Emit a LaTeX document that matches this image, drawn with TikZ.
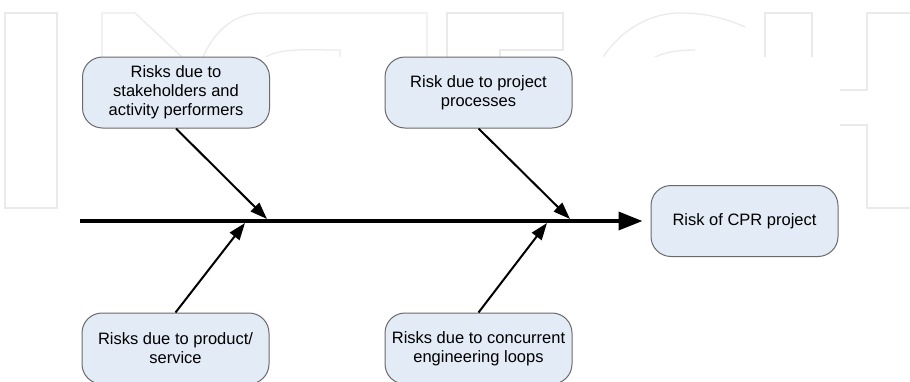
\documentclass[tikz,border=0pt]{standalone}
\usepackage{fontspec}
\setmainfont{Liberation Sans}
\usetikzlibrary{arrows.meta}
\definecolor{boxfill}{HTML}{E3EBF6}
\definecolor{boxline}{HTML}{6A6A6A}
\definecolor{wmline}{HTML}{EAEAEA}
\begin{document}
\begin{tikzpicture}[x=1pt,y=-1pt,
  cause/.style={draw=boxline, fill=boxfill, line width=1pt, rounded corners=20pt,
    minimum width=187pt, minimum height=71pt, align=center, inner sep=2pt,
    font=\fontsize{16.5}{19}\selectfont},
  bone/.style={line width=2pt, -{Triangle[length=17pt,width=12pt]}},
  spine/.style={line width=3.5pt, -{Triangle[length=24pt,width=18pt]}},
  wm/.style={draw=wmline, line width=1.3pt}]
\useasboundingbox (0,0) rectangle (910,381);

% faint outlined lettering in the background
\draw[wm] (5,13) rectangle (57,208);
\draw[wm] (102,57) -- (102,13) -- (135,13) -- (182,57);
\draw[wm] (203,57) .. controls (215,30) and (235,13) .. (262,13) -- (427,13) -- (427,57);
\draw[wm] (266,57) .. controls (276,50) and (300,49) .. (327,50) -- (340,50) -- (340,57);
\draw[wm] (447,57) -- (447,13) -- (563,13) -- (563,50) -- (500,50) -- (500,57);
\draw[wm] (603,57) .. controls (625,25) and (655,13) .. (680,13) .. controls (705,13) and (725,18) .. (745,27);
\draw[wm] (655,57) .. controls (668,51) and (682,50) .. (695,50);
\draw[wm] (765,57) -- (765,13) -- (812,13) -- (812,57);
\draw[wm] (840,90) -- (867,90) -- (867,13) -- (915,13);
\draw[wm] (840,125) -- (867,125) -- (867,208) -- (915,208);
\fill[white] (78,57) rectangle (840,381);

% effect and causes
\node[cause] (b1) at (176,92.5) {Risks due to\\stakeholders and\\activity performers};
\node[cause] (b2) at (478.5,92.5) {Risk due to project\\processes};
\node[cause] (b3) at (744.5,221) {Risk of CPR project};
\node[cause] (b4) at (175.5,348.5) {Risks due to product/\\service};
\node[cause] (b5) at (478.5,348.5) {Risks due to concurrent\\engineering loops};

% spine and its end points
\coordinate (s0) at (80,221);
\coordinate (t1) at (267,219);
\coordinate (t2) at (570,219);
\coordinate (t3) at (245,223);
\coordinate (t4) at (547,223);

\draw[spine] (s0) -- ([xshift=-8pt]b3.west);
\draw[bone] (b1.south) -- (t1);
\draw[bone] (b2.south) -- (t2);
\draw[bone] (b4.north) -- (t3);
\draw[bone] (b5.north) -- (t4);
\end{tikzpicture}
\end{document}
